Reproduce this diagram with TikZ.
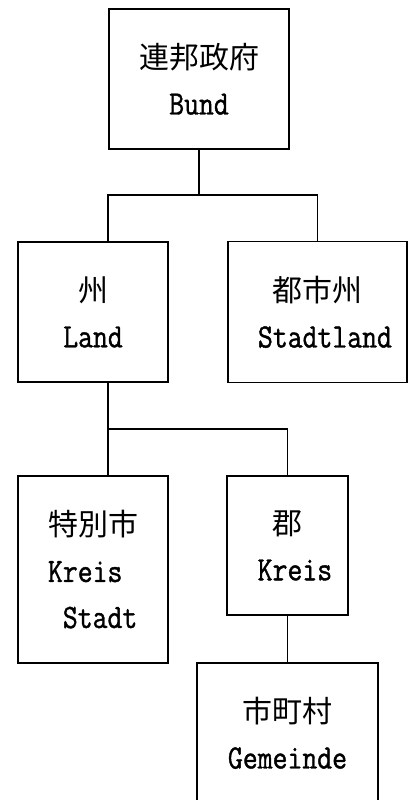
\documentclass[tikz,border=0pt]{standalone}
\usepackage{fontspec}
\newfontfamily\jpfont{Noto Sans CJK JP}
\newfontfamily\halfmono{Latin Modern Mono}[FakeStretch=0.85, FakeBold=1.2]
\newcommand\jpname{\fontsize{30}{46}\jpfont}
\newcommand\dename{\fontsize{34}{46}\halfmono}
\usetikzlibrary{positioning}

\begin{document}
\begin{tikzpicture}[
    x=1pt, y=1pt,
    line width=1.6pt,
    every node/.style = {draw, inner sep=0pt, outer sep=0pt, align=center,
        font=\fontsize{30}{46}\selectfont}
]
    \useasboundingbox (0,0) rectangle (408,-800);
    \clip (0,0) rectangle (408,-800);

    \node [minimum width=180pt, minimum height=140pt] (bund) at (199,-79)
        {{\jpname 連邦政府}\\{\dename Bund}};
    \node [minimum width=150pt, minimum height=140pt] (land) at (93,-312)
        {{\jpname 州}\\{\dename Land}};
    \node [right=60pt of land, minimum width=179pt, minimum height=141pt] (stadtland)
        {{\jpname 都市州}\\{\dename\phantom{S}Stadtland}};
    \node [below=94pt of land, minimum width=150pt, minimum height=187pt, align=left] (kreisstadt)
        {{\jpname 特別市}\\{\dename Kreis}\\{\dename\phantom{S}Stadt}};
    \node [right=59pt of kreisstadt.north east, anchor=north west,
        minimum width=121pt, minimum height=139pt] (kreis)
        {{\jpname 郡}\\{\dename\phantom{K}Kreis}};
    \node [below=48pt of kreis, minimum width=181pt, minimum height=140pt] (gemeinde)
        {{\jpname 市町村}\\{\dename Gemeinde}};

    \coordinate (fork1) at ([yshift=-46pt]bund.south);
    \coordinate (fork2) at ([xshift=15pt, yshift=-47pt]land.south);

    \draw (bund.south) -- (fork1);
    \draw ([xshift=15pt]land.north) |- (fork1) -| (stadtland.north);

    \draw ([xshift=15pt]land.south) -- (fork2 |- kreisstadt.north);
    \draw (fork2) -| (kreis.north);

    \draw (kreis.south) -- (gemeinde.north);
\end{tikzpicture}
\end{document}
